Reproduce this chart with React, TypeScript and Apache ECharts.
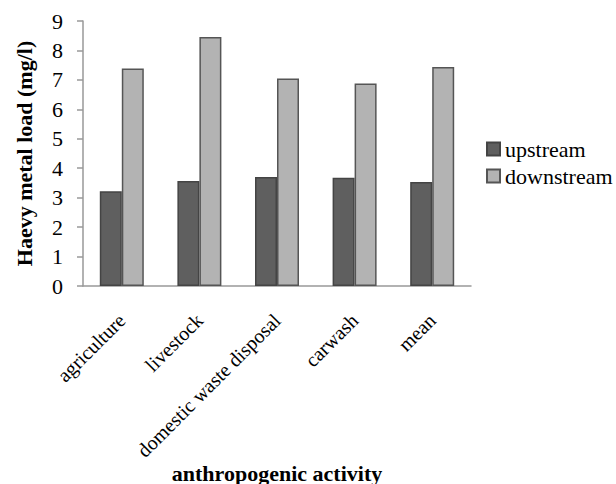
import React, { useEffect, useRef } from "react";
import * as echarts from "echarts";

const categories = ["agriculture", "livestock", "domestic waste disposal", "carwash", "mean"];
const upstream = [3.22, 3.57, 3.7, 3.68, 3.53];
const downstream = [7.39, 8.46, 7.05, 6.88, 7.44];
const yTicks = { min: 0, max: 9, interval: 1 };

const FONT = "Liberation Serif";

export default function App() {
  const ref = useRef<HTMLDivElement>(null);
  useEffect(() => {
    if (!ref.current) return;
    const chart = echarts.init(ref.current, null, { renderer: "svg" });
    chart.setOption({
      animation: false,
      backgroundColor: "#ffffff",
      textStyle: { fontFamily: FONT, color: "#000" },
      grid: { left: 83, right: 145, top: 21, bottom: 198, containLabel: false, outerBoundsMode: "none" },
      legend: {
        orient: "vertical",
        left: 481,
        top: 133,
        itemWidth: 13,
        itemHeight: 13,
        itemGap: 5,
        icon: "rect",
        textStyle: { fontFamily: FONT, fontSize: 22, color: "#000" },
        data: ["upstream", "downstream"],
      },
      xAxis: {
        type: "category",
        data: categories,
        name: "anthropogenic activity",
        nameLocation: "middle",
        nameGap: 176,
        nameMoveOverlap: false,
        nameTextStyle: { fontFamily: FONT, fontSize: 22, fontWeight: "bold", color: "#000" },
        axisLine: { show: true, lineStyle: { color: "#999", width: 1.5 } },
        axisTick: { show: false },
        axisLabel: {
          rotate: 45,
          margin: 31,
          interval: 0,
          fontFamily: FONT,
          fontSize: 20,
          color: "#000",
        },
      },
      yAxis: {
        type: "value",
        min: yTicks.min,
        max: yTicks.max,
        interval: yTicks.interval,
        name: "Haevy metal load (mg/l)",
        nameLocation: "middle",
        nameGap: 48,
        nameMoveOverlap: false,
        nameTextStyle: { fontFamily: FONT, fontSize: 22, fontWeight: "bold", color: "#000" },
        axisLine: { show: true, lineStyle: { color: "#999", width: 1.5 } },
        axisTick: { show: true, inside: false, length: 6, lineStyle: { color: "#999", width: 1.5 } },
        splitLine: { show: false },
        axisLabel: { margin: 20, fontFamily: FONT, fontSize: 22, color: "#000" },
      },
      series: [
        {
          name: "upstream",
          type: "bar",
          data: upstream,
          barWidth: 22,
          barGap: "0%",
          itemStyle: { color: "#5f5f5f", borderColor: "#444444", borderWidth: 1.5 },
        },
        {
          name: "downstream",
          type: "bar",
          data: downstream,
          barWidth: 22,
          barGap: "0%",
          itemStyle: { color: "#b3b3b3", borderColor: "#555555", borderWidth: 1.5 },
        },
      ],
    });
    return () => chart.dispose();
  }, []);
  return <div ref={ref} style={{ width: 616, height: 484, position: "absolute", left: 0, top: 0 }} />;
}
